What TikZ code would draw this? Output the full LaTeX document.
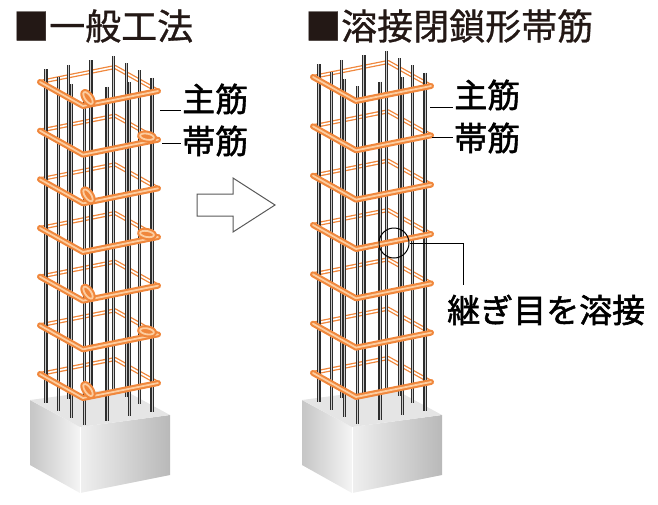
\documentclass[tikz,border=0pt]{standalone}
\usepackage{fontspec}
\newfontfamily\jp[FakeBold=0.8]{Noto Sans CJK JP}
\newfontfamily\jpb[FakeBold=1.6]{Noto Sans CJK JP}
\usetikzlibrary{calc}
\definecolor{hoopor}{RGB}{240,135,60}
\definecolor{hooplt}{RGB}{252,205,160}
\definecolor{barcol}{RGB}{45,45,45}
\definecolor{titcol}{RGB}{35,24,21}

% cage: origin x, origin y, hoop spacing, hooks (1/0)
\newcommand{\cage}[4]{%
\begin{scope}[shift={(#1,#2)}]
\foreach \k in {0,...,6}{\pgfmathsetmacro\yy{\k*#3}
  \draw[hoopb] (0,\yy) -- (75,\yy-15) -- (118,\yy+9);}
\foreach \s/\t in {0.05/0.05,0.05/0.35,0.05/0.65,0.05/0.95,0.35/0.95,0.65/0.95,0.95/0.95,0.95/0.65,0.95/0.35,0.95/0.05,0.65/0.05,0.35/0.05}
  \draw[bar] (43*\s+75*\t,24*\s-15*\t-13) -- ++(0,6*#3+42);
\foreach \k in {0,...,6}{\pgfmathsetmacro\yy{\k*#3}
  \draw[hoopf] (0,\yy) -- (43,\yy+24) -- (118,\yy+9);}
\ifnum#4=1
\foreach \k in {0,2,4,6}{\pgfmathsetmacro\yy{\k*#3+16}
  \draw[hoopf,rotate around={-55:(48,\yy)}] (48,\yy) ellipse [x radius=7,y radius=3];}
\foreach \k in {1,3,5}{\pgfmathsetmacro\yy{\k*#3+6}
  \draw[hoopf,rotate around={-10:(107,\yy)}] (107,\yy) ellipse [x radius=7,y radius=3];}
\fi
\end{scope}}

% pedestal: x shift
\newcommand{\pedestal}[1]{%
\begin{scope}[shift={(#1,0)}]
\shade[left color=gray!45,right color=gray!8] (30,400) -- (80,427) -- (80,493) -- (30,465) -- cycle;
\shade[left color=gray!12,right color=gray!55] (80,427) -- (170,415) -- (170,475) -- (80,493) -- cycle;
\fill[gray!20] (30,400) -- (120,388) -- (170,415) -- (80,427) -- cycle;
\draw[white,line width=1pt] (80,427) -- (80,493);
\end{scope}}

\begin{document}
\begin{tikzpicture}[x=1pt,y=-1pt,
  hoopb/.style={draw=hoopor,double=white,double distance=1.6pt,line width=1.3pt,line join=round},
  hoopf/.style={draw=hoopor,double=hooplt,double distance=1.8pt,line width=2.1pt,line cap=round,line join=round},
  bar/.style={draw=barcol,double=gray!40,double distance=0.9pt,line width=1.2pt},
  lab/.style={font=\jpb\fontsize{33}{36}\selectfont,inner sep=1pt},
  tit/.style={font=\jp\fontsize{36}{40}\selectfont,text=titcol,inner sep=0pt},
  lead/.style={line width=1pt}]
\useasboundingbox (0,0) rectangle (658,504);
\node[tit,anchor=west] (titL) at (13,26) {■一般工法};
\node[tit,anchor=west] (titR) at (305,26) {■溶接閉鎖形帯筋};
\pedestal{0}
\pedestal{272}
\cage{40}{82}{48.67}{1}
\cage{313}{77}{49.33}{0}
% arrow
\draw[line width=1pt,draw=gray!70!black,fill=white] (197,194) -- (233,194) -- (233,178) -- (275,205) -- (233,232) -- (233,216) -- (197,216) -- cycle;
% labels
\node[lab,anchor=west] (shuL) at (181,99) {主筋};
\node[lab,anchor=west] (obiL) at (181,141) {帯筋};
\node[lab,anchor=west] (shuR) at (453,95) {主筋};
\node[lab,anchor=west] (obiR) at (453,138) {帯筋};
\node[lab,anchor=west] (tsugi) at (446,310) {継ぎ目を溶接};
\coordinate (pshuL) at (160,110);
\coordinate (pobiL) at (162,143);
\coordinate (pshuR) at (430,107);
\coordinate (pobiR) at (432,137);
\draw[lead] (pshuL) -- (shuL.west |- pshuL);
\draw[lead] (pobiL) -- (obiL.west |- pobiL);
\draw[lead] (pshuR) -- (shuR.west |- pshuR);
\draw[lead] (pobiR) -- (obiR.west |- pobiR);
\node[draw,circle,line width=1pt,minimum size=30pt,inner sep=0pt] (weld) at (394,243) {};
\coordinate (jt) at (463,285);
\draw[lead] (weld.east) -| (jt);
\end{tikzpicture}
\end{document}
